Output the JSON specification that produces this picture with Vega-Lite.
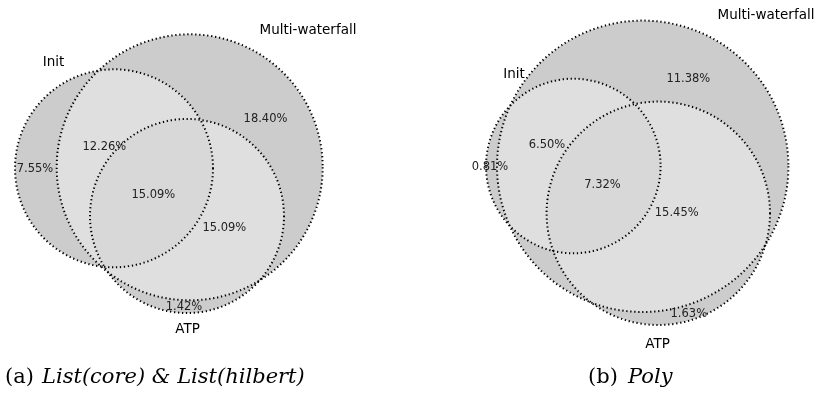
{
  "$schema": "https://vega.github.io/schema/vega-lite/v6.json",
  "width": 819,
  "height": 400,
  "autosize": {"type": "fit", "contains": "padding"},
  "padding": 0,
  "background": "white",
  "config": {"view": {"stroke": null}},
  "datasets": {
    "circles": [
      {"panel": "a", "set": "Multi-waterfall", "x": 189.7, "y": 167.3, "r": 133},
      {"panel": "a", "set": "Init", "x": 114, "y": 168.3, "r": 99},
      {"panel": "a", "set": "ATP", "x": 187, "y": 216, "r": 97},
      {"panel": "b", "set": "Multi-waterfall", "x": 642.7, "y": 166.3, "r": 145.7},
      {"panel": "b", "set": "Init", "x": 573.3, "y": 166, "r": 87.3},
      {"panel": "b", "set": "ATP", "x": 658.3, "y": 213.3, "r": 111.7}
    ],
    "setLabels": [
      {"panel": "a", "label": "Multi-waterfall", "x": 308, "y": 29.5},
      {"panel": "a", "label": "Init", "x": 53.5, "y": 62},
      {"panel": "a", "label": "ATP", "x": 187.5, "y": 328.5},
      {"panel": "b", "label": "Multi-waterfall", "x": 766, "y": 15},
      {"panel": "b", "label": "Init", "x": 514, "y": 73.5},
      {"panel": "b", "label": "ATP", "x": 657.5, "y": 344}
    ],
    "regions": [
      {"panel": "a", "label": "18.40%", "x": 265.5, "y": 118.7},
      {"panel": "a", "label": "12.26%", "x": 104.3, "y": 146.7},
      {"panel": "a", "label": "7.55%", "x": 35, "y": 168.7},
      {"panel": "a", "label": "15.09%", "x": 153.3, "y": 194.7},
      {"panel": "a", "label": "15.09%", "x": 224.3, "y": 228.3},
      {"panel": "a", "label": "1.42%", "x": 184, "y": 306.7},
      {"panel": "b", "label": "11.38%", "x": 688.3, "y": 78.7},
      {"panel": "b", "label": "6.50%", "x": 547, "y": 145.3},
      {"panel": "b", "label": "0.81%", "x": 490, "y": 167},
      {"panel": "b", "label": "7.32%", "x": 602.5, "y": 184.7},
      {"panel": "b", "label": "15.45%", "x": 676.7, "y": 212.8},
      {"panel": "b", "label": "1.63%", "x": 688.8, "y": 313.8}
    ],
    "captionTags": [
      {"panel": "a", "label": "(a)", "x": 5, "y": 377},
      {"panel": "b", "label": "(b)", "x": 588, "y": 377}
    ],
    "captionNames": [
      {"panel": "a", "label": "List(core) & List(hilbert)", "x": 42, "y": 377},
      {"panel": "b", "label": "Poly", "x": 628, "y": 377}
    ]
  },
  "layer": [
    {
      "data": {"values": [{}]},
      "mark": {"type": "rect", "fill": "white"},
      "encoding": {}
    },
    {
      "data": {"name": "circles"},
      "mark": {"type": "point", "shape": "circle", "filled": true, "fill": "#b0b0b0", "stroke": null, "strokeWidth": 0, "opacity": 1, "blend": "exclusion"},
      "encoding": {
        "x": {"field": "x", "type": "quantitative", "scale": {"domain": [0, 819], "nice": false, "zero": false}, "axis": null},
        "y": {"field": "y", "type": "quantitative", "scale": {"domain": [0, 400], "nice": false, "zero": false, "reverse": true}, "axis": null},
        "size": {"field": "r", "type": "quantitative", "scale": {"type": "pow", "exponent": 2, "domain": [0, 200], "range": [0, 160000], "zero": true}, "legend": null}
      }
    },
    {
      "data": {"values": [{}]},
      "mark": {"type": "rect", "fill": "#b5b5b5", "blend": "screen"},
      "encoding": {}
    },
    {
      "data": {"name": "circles"},
      "mark": {"type": "point", "shape": "circle", "filled": false, "stroke": "black", "strokeWidth": 2, "strokeDash": [1.3, 2.7], "opacity": 1},
      "encoding": {
        "x": {"field": "x", "type": "quantitative", "axis": null},
        "y": {"field": "y", "type": "quantitative", "axis": null},
        "size": {"field": "r", "type": "quantitative", "legend": null}
      }
    },
    {
      "data": {"name": "setLabels"},
      "mark": {"type": "text", "font": "DejaVu Sans", "fontSize": 13.5, "color": "#000000", "align": "center", "baseline": "middle"},
      "encoding": {
        "x": {"field": "x", "type": "quantitative", "axis": null},
        "y": {"field": "y", "type": "quantitative", "axis": null},
        "text": {"field": "label"}
      }
    },
    {
      "data": {"name": "regions"},
      "mark": {"type": "text", "font": "DejaVu Sans", "fontSize": 11.5, "color": "#222222", "align": "center", "baseline": "middle"},
      "encoding": {
        "x": {"field": "x", "type": "quantitative", "axis": null},
        "y": {"field": "y", "type": "quantitative", "axis": null},
        "text": {"field": "label"}
      }
    },
    {
      "data": {"name": "captionTags"},
      "mark": {"type": "text", "font": "DejaVu Serif", "fontSize": 21, "color": "#000000", "align": "left", "baseline": "middle"},
      "encoding": {
        "x": {"field": "x", "type": "quantitative", "axis": null},
        "y": {"field": "y", "type": "quantitative", "axis": null},
        "text": {"field": "label"}
      }
    },
    {
      "data": {"name": "captionNames"},
      "mark": {"type": "text", "font": "DejaVu Serif", "fontSize": 21, "fontStyle": "italic", "color": "#000000", "align": "left", "baseline": "middle"},
      "encoding": {
        "x": {"field": "x", "type": "quantitative", "axis": null},
        "y": {"field": "y", "type": "quantitative", "axis": null},
        "text": {"field": "label"}
      }
    }
  ]
}
